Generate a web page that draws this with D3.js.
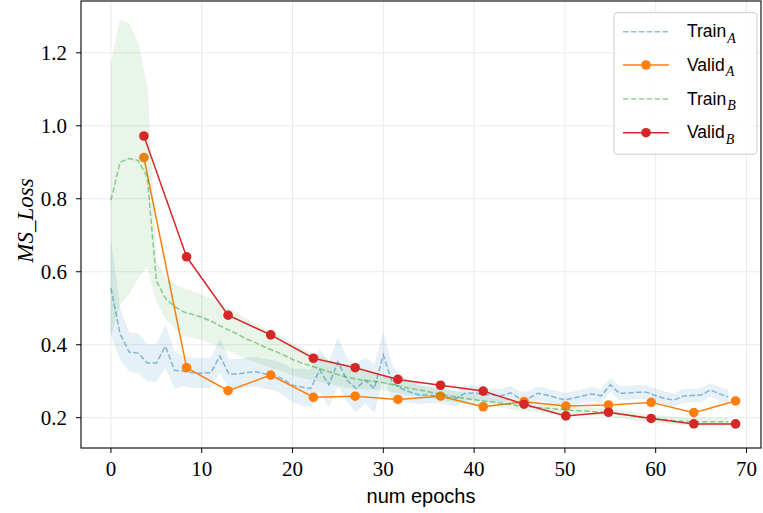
<!DOCTYPE html>
<html>
<head>
<meta charset="utf-8">
<script src="https://cdn.jsdelivr.net/npm/d3@7"></script>
<style>
  html, body { margin: 0; padding: 0; background: #fff; }
  svg { display: block; }
</style>
</head>
<body>
<svg id="chart" width="763" height="513"></svg>
<script>
// ---------------- data ----------------
const epochs = d3.range(0, 69);
const trainA = [0.555,0.43,0.38,0.377,0.35,0.35,0.396,0.33,0.327,0.323,
  0.322,0.323,0.369,0.32,0.32,0.324,0.326,0.32,0.316,0.305,
  0.289,0.284,0.28,0.331,0.29,0.353,0.303,0.28,0.303,0.28,
  0.372,0.295,0.28,0.27,0.262,0.262,0.26,0.256,0.253,0.267,
  0.268,0.263,0.262,0.26,0.268,0.253,0.253,0.267,0.262,0.255,
  0.249,0.254,0.26,0.265,0.26,0.29,0.267,0.268,0.27,0.27,
  0.26,0.253,0.248,0.259,0.261,0.262,0.276,0.266,0.257];
const trainAStd = [0.125,0.07,0.053,0.053,0.05,0.05,0.057,0.05,0.04,0.04,
  0.04,0.04,0.045,0.04,0.04,0.04,0.04,0.04,0.04,0.042,
  0.045,0.05,0.05,0.058,0.06,0.065,0.06,0.064,0.062,0.066,
  0.06,0.045,0.035,0.028,0.024,0.022,0.02,0.02,0.02,0.019,
  0.018,0.018,0.018,0.018,0.018,0.018,0.018,0.018,0.018,0.018,
  0.018,0.018,0.018,0.018,0.018,0.018,0.018,0.018,0.018,0.018,
  0.018,0.018,0.018,0.018,0.018,0.018,0.018,0.018,0.018];
const trainB = [0.796,0.9,0.91,0.905,0.86,0.575,0.527,0.505,0.49,0.483,
  0.475,0.465,0.452,0.44,0.428,0.415,0.405,0.393,0.383,0.372,
  0.36,0.35,0.342,0.334,0.326,0.318,0.311,0.306,0.302,0.3,
  0.296,0.291,0.285,0.28,0.276,0.271,0.266,0.261,0.257,0.253,
  0.249,0.246,0.243,0.24,0.236,0.232,0.23,0.228,0.226,0.224,
  0.222,0.22,0.219,0.217,0.215,0.213,0.21,0.207,0.202,0.199,
  0.197,0.195,0.192,0.19,0.189,0.189,0.189,0.189,0.189];
const trainBStd = [0.37,0.39,0.37,0.32,0.245,0.055,0.055,0.06,0.065,0.063,
  0.061,0.06,0.059,0.058,0.056,0.054,0.052,0.05,0.048,0.046,
  0.043,0.04,0.037,0.035,0.032,0.03,0.028,0.026,0.024,0.022,
  0.021,0.02,0.019,0.018,0.017,0.016,0.015,0.015,0.014,0.014,
  0.013,0.012,0.012,0.012,0.012,0.012,0.012,0.012,0.012,0.012,
  0.01,0.01,0.01,0.01,0.01,0.01,0.01,0.01,0.01,0.01,
  0.01,0.01,0.01,0.01,0.01,0.01,0.01,0.01,0.01];
const validEpochs = [3.63,8.33,12.9,17.6,22.3,26.9,31.6,36.3,41.0,45.5,50.1,54.8,59.5,64.2,68.8];
const validA = [0.913,0.337,0.274,0.317,0.256,0.259,0.25,0.259,0.23,0.244,0.232,0.235,0.242,0.214,0.246];
const validB = [0.972,0.641,0.481,0.427,0.363,0.337,0.305,0.289,0.273,0.237,0.205,0.215,0.198,0.183,0.183];
const xTicks = [0,10,20,30,40,50,60,70];
const yTicks = [0.2,0.4,0.6,0.8,1.0,1.2];
const legendNames = ["Train", "Valid", "Train", "Valid"];
const legendSubs = ["A", "A", "B", "B"];

// ---------------- layout ----------------
const svg = d3.select("#chart");
const L = 81, R = 761, T = 1, B = 448;
const x = d3.scaleLinear().domain([-3.3, 71.6]).range([L, R]);
const y = d3.scaleLinear().domain([0.117, 1.342]).range([B, T]);

const blue = "#1f77b4", orange = "#ff7f0e", green = "#2ca02c", red = "#d62728";

svg.append("clipPath").attr("id","clip").append("rect")
  .attr("x", L).attr("y", T).attr("width", R-L).attr("height", B-T);

// grid
const grid = svg.append("g");
grid.selectAll(".gx").data(xTicks).join("line")
  .attr("x1", d=>x(d)).attr("x2", d=>x(d)).attr("y1", T).attr("y2", B)
  .attr("stroke", "#ebebeb").attr("stroke-width", 1);
grid.selectAll(".gy").data(yTicks).join("line")
  .attr("x1", L).attr("x2", R).attr("y1", d=>y(d)).attr("y2", d=>y(d))
  .attr("stroke", "#ebebeb").attr("stroke-width", 1);

const plot = svg.append("g").attr("clip-path", "url(#clip)");

function drawModel(mean, std, valid, col, vcol) {
  const band = epochs.map((e,i)=>({e, lo: mean[i]-std[i], hi: mean[i]+std[i]}));
  plot.append("path").datum(band)
    .attr("d", d3.area().x(d=>x(d.e)).y0(d=>y(d.lo)).y1(d=>y(d.hi)))
    .attr("fill", col).attr("fill-opacity", 0.11)
    .attr("stroke", col).attr("stroke-opacity", 0.04).attr("stroke-width", 1);
  plot.append("path").datum(epochs.map((e,i)=>[e, mean[i]]))
    .attr("d", d3.line().x(d=>x(d[0])).y(d=>y(d[1])))
    .attr("fill", "none").attr("stroke", col).attr("stroke-opacity", 0.5)
    .attr("stroke-width", 1.5).attr("stroke-dasharray", "5.5,2.4");
  const vd = validEpochs.map((e,i)=>[e, valid[i]]);
  plot.append("path").datum(vd)
    .attr("d", d3.line().x(d=>x(d[0])).y(d=>y(d[1])))
    .attr("fill", "none").attr("stroke", vcol).attr("stroke-width", 1.5);
  plot.append("g").selectAll("circle").data(vd).join("circle")
    .attr("cx", d=>x(d[0])).attr("cy", d=>y(d[1])).attr("r", 4.8)
    .attr("fill", vcol);
}
drawModel(trainA, trainAStd, validA, blue, orange);
drawModel(trainB, trainBStd, validB, green, red);

// spines
svg.append("rect").attr("x", L).attr("y", T).attr("width", R-L).attr("height", B-T)
  .attr("fill", "none").attr("stroke", "#000").attr("stroke-width", 1.1);

// axes ticks
const serif = "'Liberation Serif', 'DejaVu Serif', serif";
const ax = svg.append("g");
ax.selectAll(".tx").data(xTicks).join("line")
  .attr("x1", d=>x(d)).attr("x2", d=>x(d)).attr("y1", B).attr("y2", B+5)
  .attr("stroke", "#000").attr("stroke-width", 1);
ax.selectAll(".lx").data(xTicks).join("text")
  .attr("x", d=>x(d)).attr("y", 476).attr("text-anchor", "middle")
  .attr("font-family", serif).attr("font-size", 21).text(d=>d);
ax.selectAll(".ty").data(yTicks).join("line")
  .attr("x1", L-5).attr("x2", L).attr("y1", d=>y(d)).attr("y2", d=>y(d))
  .attr("stroke", "#000").attr("stroke-width", 1);
ax.selectAll(".ly").data(yTicks).join("text")
  .attr("x", 67).attr("y", d=>y(d)+7.5).attr("text-anchor", "end")
  .attr("font-family", serif).attr("font-size", 21).text(d=>d.toFixed(1));

// axis labels
svg.append("text").attr("x", (L+R)/2).attr("y", 503).attr("text-anchor", "middle")
  .attr("font-family", "'Liberation Sans', Arial, sans-serif").attr("font-size", 20)
  .text("num epochs");
svg.append("text").attr("transform", `translate(33,${(T+B)/2 - 4}) rotate(-90)`)
  .attr("text-anchor", "middle").attr("font-family", serif).attr("font-style", "italic")
  .attr("font-size", 23).text("MS_Loss");

// legend
const lg = svg.append("g");
lg.append("rect").attr("x", 614).attr("y", 12.7).attr("width", 143).attr("height", 141.5)
  .attr("rx", 3).attr("fill", "#fff").attr("fill-opacity", 0.8)
  .attr("stroke", "#cccccc").attr("stroke-width", 1);
const lgY = [31.7, 65, 99, 132.7];
const lgCol = [blue, orange, green, red];
legendNames.forEach((n, i) => {
  const cy = lgY[i];
  const isTrain = i % 2 === 0;
  const ln = lg.append("line").attr("x1", 623).attr("x2", 669).attr("y1", cy).attr("y2", cy)
    .attr("stroke", lgCol[i]).attr("stroke-width", 1.5);
  if (isTrain) ln.attr("stroke-opacity", 0.5).attr("stroke-dasharray", "5.5,2.4");
  else lg.append("circle").attr("cx", 646).attr("cy", cy).attr("r", 4.8).attr("fill", lgCol[i]);
  const t = lg.append("text").attr("x", 687).attr("y", cy + 5.5)
    .attr("font-family", "'Liberation Sans', Arial, sans-serif").attr("font-size", 17.5)
    .attr("fill", "#000");
  t.append("tspan").text(n);
  t.append("tspan").attr("dy", 5.5).attr("dx", 1).attr("font-family", serif)
    .attr("font-style", "italic").attr("font-size", 14).text(legendSubs[i]);
});
</script>
</body>
</html>
